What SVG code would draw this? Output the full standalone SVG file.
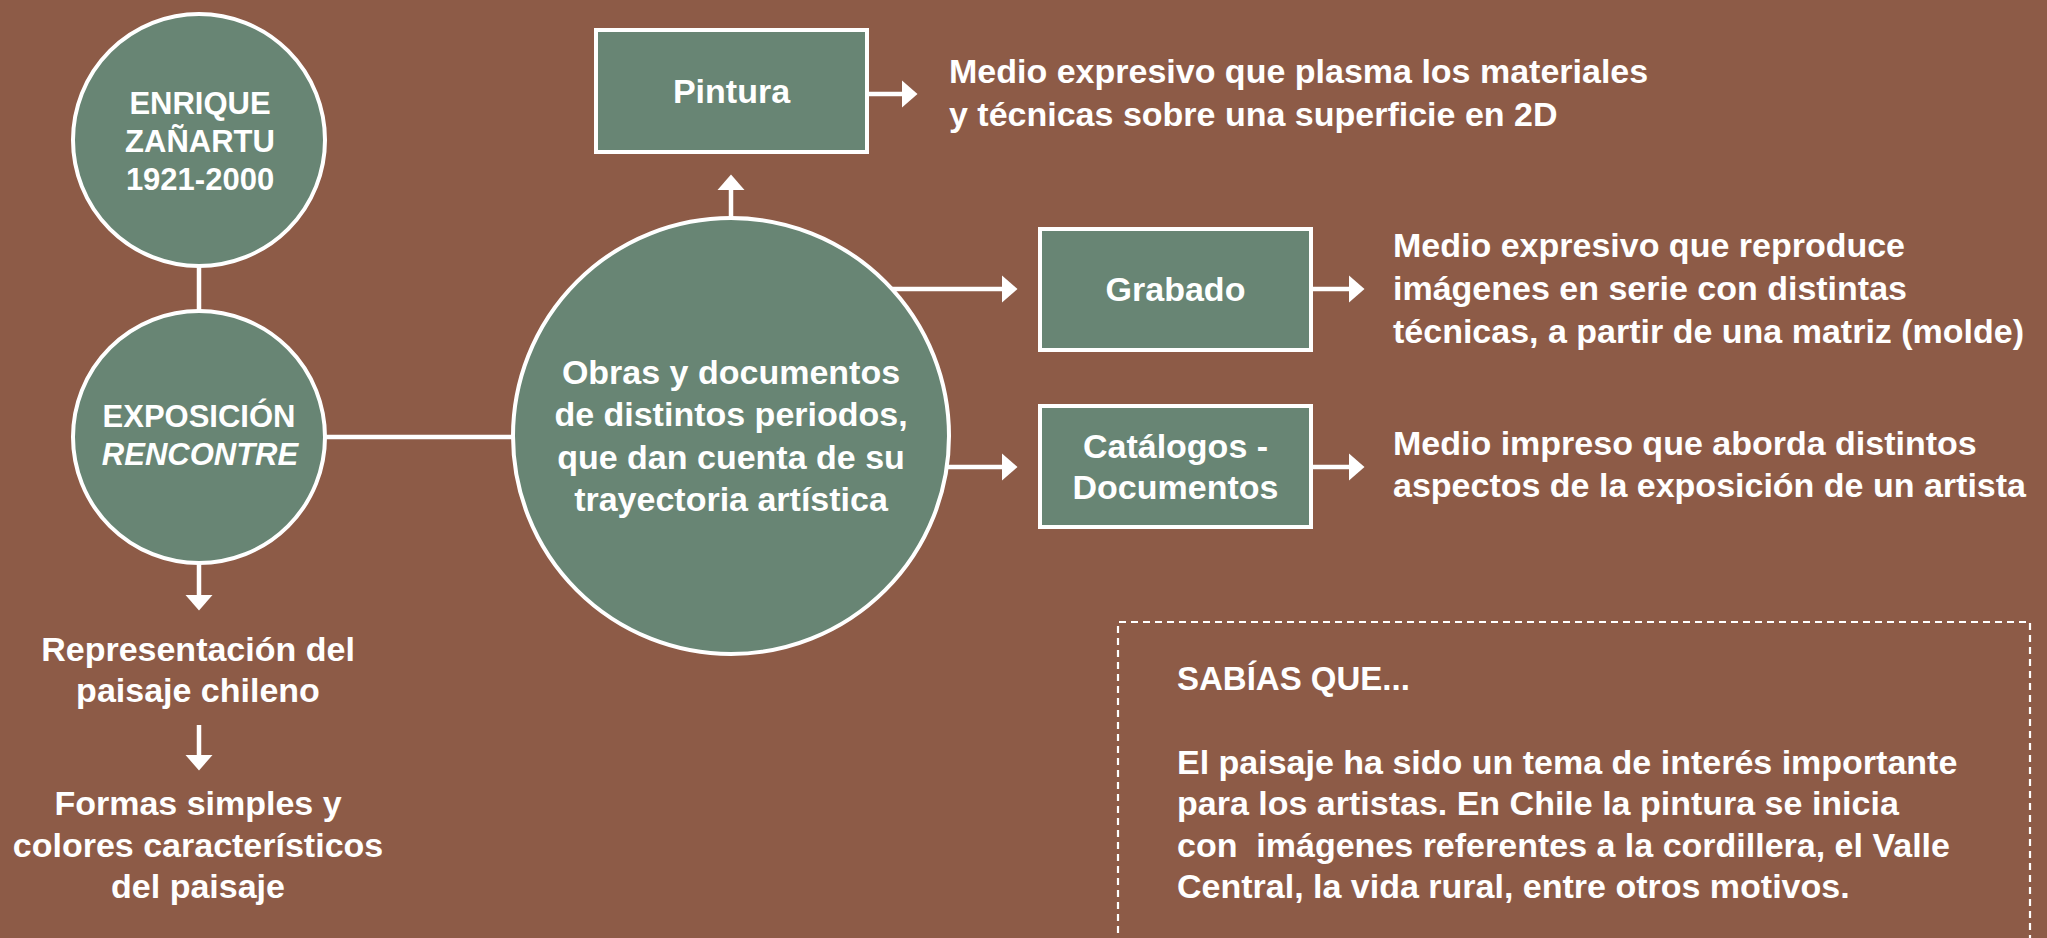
<svg xmlns="http://www.w3.org/2000/svg" width="2047" height="938" viewBox="0 0 2047 938">
<defs>
<style>
.bg{fill:#8D5B47}
.node{fill:#688574;stroke:#fff;stroke-width:4}
.t{font-family:"Liberation Sans",Arial,Helvetica,sans-serif;font-weight:bold;fill:#fff}
.c{text-anchor:middle}
.s34{font-size:34px}
.s31{font-size:31px}
.s33{font-size:33px}
.con{stroke:#fff;stroke-width:4.5;fill:none}
.arr{marker-end:url(#ah)}
.dash{stroke:#fff;stroke-width:2.2;fill:none;stroke-dasharray:7 5}
</style>
<marker id="ah" markerUnits="userSpaceOnUse" markerWidth="16" markerHeight="28" viewBox="0 0 16 28" refX="1" refY="14" orient="auto">
<path d="M0,0.5 L15.5,14 L0,27.5 Z" fill="#fff"/>
</marker>
</defs>
<rect class="bg" x="0" y="0" width="2047" height="938"/>

<g id="connectors">
<path class="con" d="M199,266 V311"/>
<path class="con" d="M325,437 H513"/>
<path class="con arr" d="M199,563 V596"/>
<path class="con arr" d="M199,725 V756"/>
<path class="con arr" d="M731,218 V189"/>
<path class="con arr" d="M869,94 H903"/>
<path class="con arr" d="M892,289 H1003"/>
<path class="con arr" d="M1313,289 H1350"/>
<path class="con arr" d="M948,467 H1003"/>
<path class="con arr" d="M1313,467 H1350"/>
</g>

<g id="node-enrique">
<circle class="node" cx="199" cy="140" r="126"/>
<text class="t c s31" x="200" y="114">ENRIQUE</text>
<text class="t c s31" x="200" y="152">ZAÑARTU</text>
<text class="t c s31" x="200" y="190">1921-2000</text>
</g>

<g id="node-exposicion">
<circle class="node" cx="199" cy="437" r="126"/>
<text class="t c s31" x="199" y="427">EXPOSICIÓN</text>
<text class="t c s31" x="200" y="465" font-style="italic">RENCONTRE</text>
</g>

<g id="node-representacion">
<text class="t c s34" x="198" y="661">Representación del</text>
<text class="t c s34" x="198" y="702">paisaje chileno</text>
</g>

<g id="node-formas">
<text class="t c s34" x="198" y="815">Formas simples y</text>
<text class="t c s34" x="198" y="857">colores característicos</text>
<text class="t c s34" x="198" y="898">del paisaje</text>
</g>

<g id="node-obras">
<circle class="node" cx="731" cy="436" r="218"/>
<text class="t c s34" x="731" y="384">Obras y documentos</text>
<text class="t c s34" x="731" y="426">de distintos periodos,</text>
<text class="t c s34" x="731" y="469">que dan cuenta de su</text>
<text class="t c s34" x="731" y="511">trayectoria artística</text>
</g>

<g id="node-pintura">
<rect class="node" x="596" y="30" width="271" height="122"/>
<text class="t c s34" x="731.5" y="103">Pintura</text>
</g>

<g id="node-pintura-desc">
<text class="t s34" x="949" y="83">Medio expresivo que plasma los materiales</text>
<text class="t s34" x="949" y="126">y técnicas sobre una superficie en 2D</text>
</g>

<g id="node-grabado">
<rect class="node" x="1040" y="229" width="271" height="121"/>
<text class="t c s34" x="1175.5" y="301">Grabado</text>
</g>

<g id="node-grabado-desc">
<text class="t s34" x="1393" y="257">Medio expresivo que reproduce</text>
<text class="t s34" x="1393" y="300">imágenes en serie con distintas</text>
<text class="t s34" x="1393" y="343">técnicas, a partir de una matriz (molde)</text>
</g>

<g id="node-catalogos">
<rect class="node" x="1040" y="406" width="271" height="121"/>
<text class="t c s34" x="1175.5" y="458">Catálogos -</text>
<text class="t c s34" x="1175.5" y="499">Documentos</text>
</g>

<g id="node-catalogos-desc">
<text class="t s34" x="1393" y="455">Medio impreso que aborda distintos</text>
<text class="t s34" x="1393" y="497">aspectos de la exposición de un artista</text>
</g>

<g id="node-sabias">
<path class="dash" d="M1118,945 V622 H2030 V945"/>
<text class="t s33" x="1177" y="690">SABÍAS QUE...</text>
<text class="t s34" x="1177" y="774">El paisaje ha sido un tema de interés importante</text>
<text class="t s34" x="1177" y="815">para los artistas. En Chile la pintura se inicia</text>
<text class="t s34" x="1177" y="857" xml:space="preserve">con  imágenes referentes a la cordillera, el Valle</text>
<text class="t s34" x="1177" y="898">Central, la vida rural, entre otros motivos.</text>
</g>
</svg>
